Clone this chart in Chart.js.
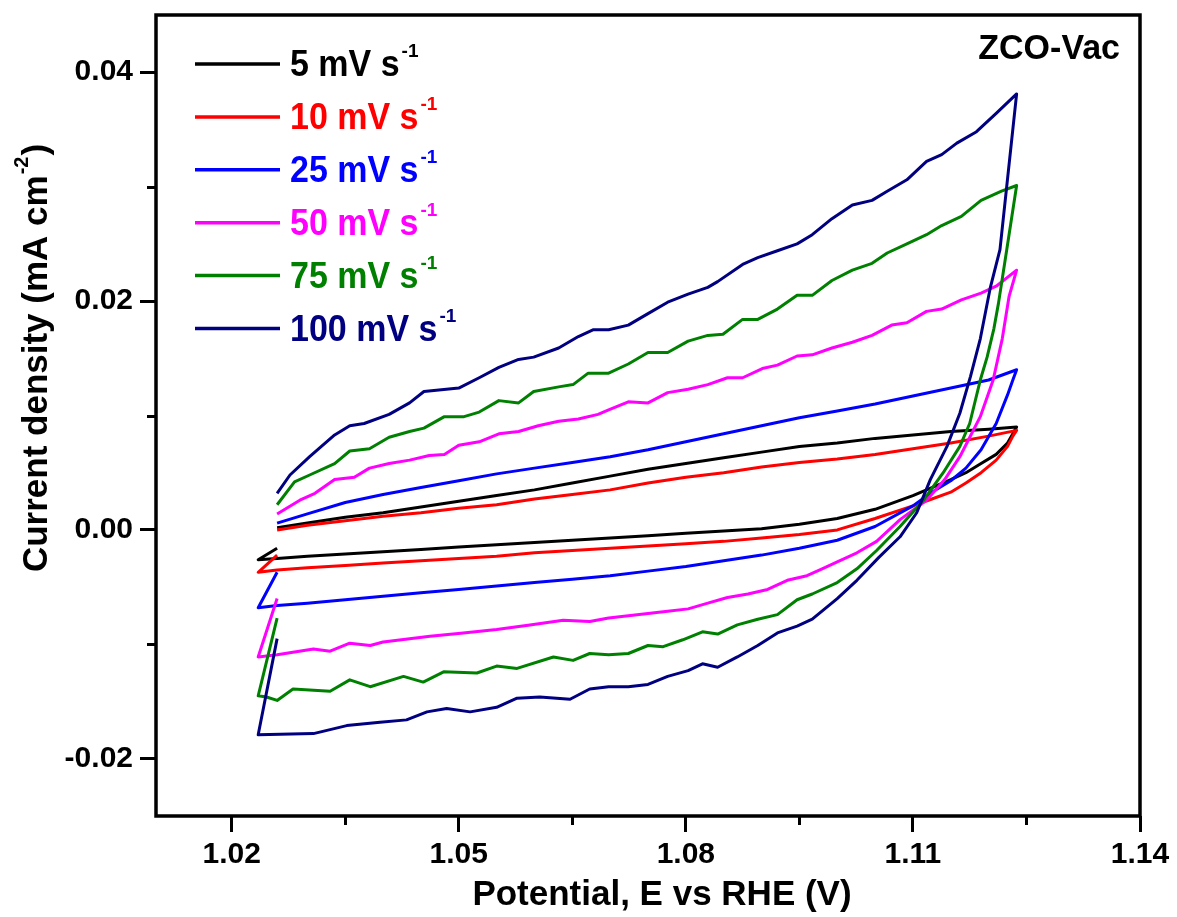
<!DOCTYPE html>
<html>
<head>
<meta charset="utf-8">
<script src="https://cdn.jsdelivr.net/npm/chart.js@4.4.1/dist/chart.umd.min.js"></script>
<style>
  html, body { margin: 0; padding: 0; background: #ffffff; }
  #wrap { width: 1177px; height: 917px; position: relative; }
  canvas { display: block; }
</style>
</head>
<body>
<div id="wrap"><canvas id="cv" width="1177" height="917"></canvas></div>
<script>
// ---------------- data ----------------
const scanRates = ['5', '10', '25', '50', '75', '100'];          // mV s-1
const sampleName = 'ZCO-Vac';
const xTitleText = 'Potential, E vs RHE (V)';
const yTitleMain = 'Current density (mA cm';
const yTitleSup = '-2';
const yTitleEnd = ')';

const xMajorTicks = [1.02, 1.05, 1.08, 1.11, 1.14];
const xMinorTicks = [1.035, 1.065, 1.095, 1.125];
const yMajorTicks = [-0.02, 0.00, 0.02, 0.04];
const yMinorTicks = [-0.01, 0.01, 0.03];

// last recorded point of each loop (low-potential end), V
const scanEndPotential = 1.026;
const scanEndCurrent = [-0.0016, -0.0022, -0.0037, -0.0060, -0.0077, -0.0095];

// shared potential grids (V) for the smooth 5 / 10 / 25 mV s-1 loops
const potentialAnodic = [1.026, 1.030, 1.035, 1.040, 1.045, 1.050, 1.055, 1.060, 1.065, 1.070,
  1.075, 1.080, 1.085, 1.090, 1.095, 1.100, 1.105, 1.110, 1.115, 1.120, 1.1237];
const potentialCathodic = [1.0235, 1.026, 1.030, 1.035, 1.040, 1.045, 1.050, 1.055, 1.060, 1.065,
  1.070, 1.075, 1.080, 1.085, 1.090, 1.095, 1.100, 1.105, 1.110, 1.1125, 1.115, 1.117, 1.119,
  1.121, 1.1225, 1.1232, 1.1237];

// current density (mA cm-2) on those grids
const anodic5   = [0.0002, 0.0006, 0.0011, 0.0015, 0.0020, 0.0025, 0.0030, 0.0035, 0.0041, 0.0047, 0.0053, 0.0058, 0.0063, 0.0068, 0.0073, 0.0076, 0.0080, 0.0083, 0.0086, 0.0088, 0.0090];
const anodic10  = [0.0000, 0.0004, 0.0008, 0.0012, 0.0015, 0.0019, 0.0022, 0.0027, 0.0031, 0.0035, 0.0041, 0.0046, 0.0050, 0.0055, 0.0059, 0.0062, 0.0066, 0.0071, 0.0076, 0.0082, 0.0087];
const anodic25  = [0.0006, 0.0014, 0.0024, 0.0031, 0.0037, 0.0043, 0.0049, 0.0054, 0.0059, 0.0064, 0.0070, 0.0077, 0.0084, 0.0091, 0.0098, 0.0104, 0.0110, 0.0117, 0.0124, 0.0131, 0.0140];
const cathodic5   = [-0.0026, -0.0025, -0.0023, -0.0021, -0.0019, -0.0017, -0.0015, -0.0013, -0.0011, -0.0009, -0.0007, -0.0005, -0.0003, -0.0001, 0.0001, 0.0005, 0.0010, 0.0018, 0.0030, 0.0037, 0.0044, 0.0050, 0.0058, 0.0066, 0.0076, 0.0084, 0.0090];
const cathodic10  = [-0.0037, -0.0035, -0.0033, -0.0031, -0.0029, -0.0027, -0.0025, -0.0023, -0.0020, -0.0018, -0.0016, -0.0014, -0.0012, -0.0010, -0.0007, -0.0004, 0.0000, 0.0010, 0.0021, 0.0027, 0.0033, 0.0041, 0.0050, 0.0061, 0.0073, 0.0082, 0.0087];
const cathodic25  = [-0.0068, -0.0066, -0.0064, -0.0061, -0.0058, -0.0055, -0.0052, -0.0049, -0.0046, -0.0043, -0.0040, -0.0036, -0.0032, -0.0027, -0.0022, -0.0016, -0.0009, 0.0003, 0.0021, 0.0033, 0.0043, 0.0054, 0.0070, 0.0093, 0.0118, 0.0131, 0.0140];

// 50 mV s-1 (own potential samples, wavy trace)
const potentialAnodic50 = [1.0260, 1.0290, 1.0310, 1.0336, 1.0362, 1.0382, 1.0408, 1.0435, 1.0461, 1.0481, 1.0500, 1.0527, 1.0553, 1.0579, 1.0605, 1.0632, 1.0658, 1.0684, 1.0698, 1.0724, 1.0750, 1.0776, 1.0803, 1.0829, 1.0855, 1.0875, 1.0901, 1.0921, 1.0947, 1.0967, 1.0993, 1.1020, 1.1046, 1.1072, 1.1092, 1.1118, 1.1138, 1.1164, 1.1190, 1.1210, 1.1237];
const anodic50 = [0.0014, 0.0026, 0.0032, 0.0044, 0.0046, 0.0054, 0.0058, 0.0061, 0.0065, 0.0066, 0.0074, 0.0077, 0.0084, 0.0086, 0.0091, 0.0095, 0.0097, 0.0101, 0.0105, 0.0112, 0.0111, 0.0120, 0.0123, 0.0127, 0.0133, 0.0133, 0.0141, 0.0144, 0.0152, 0.0153, 0.0159, 0.0164, 0.0170, 0.0179, 0.0181, 0.0191, 0.0193, 0.0201, 0.0207, 0.0213, 0.0227];
const potentialCathodic50 = [1.0235, 1.0260, 1.0308, 1.0330, 1.0356, 1.0383, 1.0400, 1.0462, 1.0506, 1.0550, 1.0594, 1.0638, 1.0673, 1.0698, 1.0724, 1.0750, 1.0776, 1.0803, 1.0829, 1.0855, 1.0882, 1.0908, 1.0934, 1.0960, 1.0980, 1.1000, 1.1026, 1.1052, 1.1083, 1.1118, 1.1142, 1.1162, 1.1189, 1.1206, 1.1218, 1.1227, 1.1237];
const cathodic50 = [-0.0111, -0.0109, -0.0104, -0.0106, -0.0099, -0.0101, -0.0098, -0.0093, -0.0090, -0.0087, -0.0083, -0.0079, -0.0080, -0.0077, -0.0075, -0.0073, -0.0071, -0.0069, -0.0064, -0.0059, -0.0056, -0.0052, -0.0044, -0.0040, -0.0034, -0.0028, -0.0020, -0.0010, 0.0009, 0.0026, 0.0044, 0.0064, 0.0099, 0.0131, 0.0167, 0.0204, 0.0227];

// 75 mV s-1
const potentialAnodic75 = [1.0260, 1.0283, 1.0303, 1.0336, 1.0356, 1.0382, 1.0408, 1.0435, 1.0454, 1.0481, 1.0507, 1.0527, 1.0553, 1.0579, 1.0599, 1.0632, 1.0651, 1.0671, 1.0698, 1.0724, 1.0750, 1.0776, 1.0803, 1.0829, 1.0849, 1.0875, 1.0895, 1.0921, 1.0947, 1.0967, 1.0993, 1.1020, 1.1046, 1.1066, 1.1092, 1.1118, 1.1138, 1.1164, 1.1190, 1.1217, 1.1237];
const anodic75 = [0.0022, 0.0042, 0.0048, 0.0058, 0.0069, 0.0071, 0.0081, 0.0086, 0.0089, 0.0099, 0.0099, 0.0103, 0.0113, 0.0111, 0.0121, 0.0125, 0.0127, 0.0137, 0.0137, 0.0145, 0.0155, 0.0155, 0.0165, 0.0170, 0.0171, 0.0184, 0.0184, 0.0193, 0.0205, 0.0205, 0.0218, 0.0227, 0.0233, 0.0242, 0.0250, 0.0258, 0.0266, 0.0274, 0.0288, 0.0296, 0.0301];
const potentialCathodic75 = [1.0235, 1.0246, 1.0260, 1.0281, 1.0330, 1.0356, 1.0383, 1.0427, 1.0453, 1.0480, 1.0524, 1.0550, 1.0577, 1.0625, 1.0651, 1.0673, 1.0698, 1.0724, 1.0750, 1.0770, 1.0796, 1.0822, 1.0842, 1.0868, 1.0895, 1.0921, 1.0947, 1.0967, 1.1000, 1.1026, 1.1052, 1.1083, 1.1114, 1.1140, 1.1162, 1.1175, 1.1189, 1.1198, 1.1207, 1.1213, 1.1224, 1.1237];
const cathodic75 = [-0.0145, -0.0146, -0.0149, -0.0139, -0.0141, -0.0131, -0.0137, -0.0128, -0.0133, -0.0124, -0.0125, -0.0119, -0.0121, -0.0111, -0.0114, -0.0108, -0.0109, -0.0108, -0.0101, -0.0102, -0.0096, -0.0089, -0.0091, -0.0083, -0.0078, -0.0074, -0.0061, -0.0056, -0.0046, -0.0034, -0.0018, 0.0003, 0.0026, 0.0050, 0.0073, 0.0093, 0.0131, 0.0151, 0.0176, 0.0198, 0.0245, 0.0301];

// 100 mV s-1
const potentialAnodic100 = [1.0260, 1.0277, 1.0303, 1.0336, 1.0356, 1.0375, 1.0408, 1.0435, 1.0454, 1.0500, 1.0527, 1.0553, 1.0579, 1.0599, 1.0632, 1.0658, 1.0678, 1.0698, 1.0724, 1.0750, 1.0776, 1.0803, 1.0829, 1.0842, 1.0875, 1.0895, 1.0921, 1.0947, 1.0967, 1.0993, 1.1020, 1.1046, 1.1066, 1.1092, 1.1118, 1.1138, 1.1158, 1.1184, 1.1210, 1.1237];
const anodic100 = [0.0032, 0.0048, 0.0064, 0.0083, 0.0091, 0.0093, 0.0101, 0.0111, 0.0121, 0.0124, 0.0133, 0.0142, 0.0149, 0.0151, 0.0159, 0.0169, 0.0175, 0.0175, 0.0179, 0.0189, 0.0199, 0.0206, 0.0212, 0.0217, 0.0232, 0.0238, 0.0244, 0.0250, 0.0258, 0.0272, 0.0284, 0.0288, 0.0296, 0.0306, 0.0322, 0.0328, 0.0338, 0.0348, 0.0364, 0.0381];
const potentialCathodic100 = [1.0235, 1.0308, 1.0352, 1.0396, 1.0431, 1.0458, 1.0484, 1.0515, 1.0550, 1.0577, 1.0607, 1.0647, 1.0673, 1.0698, 1.0724, 1.0750, 1.0776, 1.0803, 1.0822, 1.0842, 1.0868, 1.0895, 1.0921, 1.0947, 1.0967, 1.1000, 1.1026, 1.1055, 1.1083, 1.1105, 1.1123, 1.1145, 1.1162, 1.1176, 1.1189, 1.1202, 1.1215, 1.1237];
const cathodic100 = [-0.0179, -0.0178, -0.0171, -0.0168, -0.0166, -0.0159, -0.0156, -0.0159, -0.0155, -0.0147, -0.0146, -0.0148, -0.0139, -0.0137, -0.0137, -0.0135, -0.0128, -0.0123, -0.0117, -0.0120, -0.0111, -0.0101, -0.0090, -0.0084, -0.0078, -0.0060, -0.0044, -0.0024, -0.0006, 0.0015, 0.0044, 0.0073, 0.0102, 0.0134, 0.0167, 0.0211, 0.0245, 0.0381];

// ---------------- styles ----------------
const lineColors = ['#000000', '#ff0000', '#0000ff', '#ff00ff', '#008000', '#000080'];
const FONT = '"Liberation Sans", Arial, Helvetica, sans-serif';

// ---------------- build datasets ----------------
const loopTable = [
  [potentialAnodic, anodic5, potentialCathodic, cathodic5],
  [potentialAnodic, anodic10, potentialCathodic, cathodic10],
  [potentialAnodic, anodic25, potentialCathodic, cathodic25],
  [potentialAnodic50, anodic50, potentialCathodic50, cathodic50],
  [potentialAnodic75, anodic75, potentialCathodic75, cathodic75],
  [potentialAnodic100, anodic100, potentialCathodic100, cathodic100]
];

function buildLoop(i) {
  const [eUp, jUp, eDn, jDn] = loopTable[i];
  const pts = [{ x: scanEndPotential, y: scanEndCurrent[i] }];
  eDn.forEach((e, k) => pts.push({ x: e, y: jDn[k] }));
  for (let k = eUp.length - 1; k >= 0; k--) pts.push({ x: eUp[k], y: jUp[k] });
  return pts;
}

const datasets = scanRates.map((r, i) => ({
  label: r + ' mV s\u207B\u00B9',
  data: buildLoop(i),
  borderColor: lineColors[i],
  backgroundColor: lineColors[i],
  borderWidth: 3,
  pointRadius: 0,
  showLine: true,
  fill: false,
  tension: 0,
  borderJoinStyle: 'round',
  order: -i
}));

// ---------------- decorations plugin ----------------
const decor = {
  id: 'decor',
  afterDraw(chart) {
    const { ctx, chartArea: a, scales: { x, y } } = chart;
    ctx.save();
    // frame
    ctx.strokeStyle = '#000';
    ctx.lineWidth = 3.5;
    ctx.strokeRect(a.left, a.top, a.right - a.left, a.bottom - a.top);
    // minor ticks
    ctx.lineWidth = 3;
    ctx.beginPath();
    xMinorTicks.forEach(v => {
      const px = Math.round(x.getPixelForValue(v)) + 0.5;
      ctx.moveTo(px, a.bottom); ctx.lineTo(px, a.bottom + 9);
    });
    yMinorTicks.forEach(v => {
      const py = Math.round(y.getPixelForValue(v)) + 0.5;
      ctx.moveTo(a.left, py); ctx.lineTo(a.left - 9, py);
    });
    ctx.stroke();

    // legend
    const lx0 = a.left + 39, lx1 = a.left + 124, tx = a.left + 134;
    const rowY0 = a.top + 49, rowDy = 52.9;
    chart.data.datasets.forEach((ds, i) => {
      const ry = rowY0 + i * rowDy;
      ctx.strokeStyle = ds.borderColor;
      ctx.lineWidth = 3.5;
      ctx.beginPath(); ctx.moveTo(lx0, ry); ctx.lineTo(lx1, ry); ctx.stroke();
      ctx.fillStyle = ds.borderColor;
      ctx.textAlign = 'left';
      ctx.textBaseline = 'alphabetic';
      ctx.font = 'bold 34px ' + FONT;
      const main = scanRates[i] + ' mV s';
      ctx.save();
      ctx.translate(tx, ry + 12);
      ctx.scale(1, 1.08);
      ctx.fillText(main, 0, 0);
      ctx.restore();
      const w = ctx.measureText(main).width;
      ctx.font = 'bold 19px ' + FONT;
      ctx.fillText('-1', tx + w + 2, ry - 7);
    });

    // sample label
    ctx.fillStyle = '#000';
    ctx.font = 'bold 34px ' + FONT;
    ctx.textAlign = 'right';
    ctx.save();
    ctx.translate(a.right - 20, a.top + 44);
    ctx.scale(1, 1.05);
    ctx.fillText(sampleName, 0, 0);
    ctx.restore();

    // x axis title
    ctx.textAlign = 'center';
    ctx.font = 'bold 35px ' + FONT;
    ctx.fillText(xTitleText, 662, 905);

    // y axis title (rotated, with superscript)
    ctx.save();
    ctx.translate(47, 358);
    ctx.rotate(-Math.PI / 2);
    ctx.font = 'bold 35px ' + FONT;
    const wMain = ctx.measureText(yTitleMain).width;
    const wEnd = ctx.measureText(yTitleEnd).width;
    ctx.font = 'bold 20px ' + FONT;
    const wSup = ctx.measureText(yTitleSup).width;
    const total = wMain + wSup + 2 + wEnd;
    let cx = -total / 2;
    ctx.textAlign = 'left';
    ctx.font = 'bold 35px ' + FONT;
    ctx.fillText(yTitleMain, cx, 0);
    cx += wMain + 1;
    ctx.font = 'bold 20px ' + FONT;
    ctx.fillText(yTitleSup, cx, -19);
    cx += wSup + 1;
    ctx.font = 'bold 35px ' + FONT;
    ctx.fillText(yTitleEnd, cx, 0);
    ctx.restore();

    ctx.restore();
  }
};

// ---------------- chart ----------------
const tickFont = { family: FONT, size: 30, weight: 'bold' };
new Chart(document.getElementById('cv'), {
  type: 'scatter',
  data: { datasets },
  options: {
    responsive: false,
    animation: false,
    devicePixelRatio: 1,
    layout: { padding: { left: 0, top: 15, right: 37, bottom: 0 } },
    plugins: { legend: { display: false }, tooltip: { enabled: false }, title: { display: false } },
    scales: {
      x: {
        type: 'linear',
        min: 1.01, max: 1.14,
        afterBuildTicks: s => { s.ticks = xMajorTicks.map(v => ({ value: v })); },
        afterFit: s => { s.height = 101; s.paddingLeft = 0; s.paddingRight = 0; s.paddingTop = 0; s.paddingBottom = 0; },
        ticks: { autoSkip: false, maxRotation: 0, color: '#000', font: tickFont, padding: 5,
                 callback: v => Number(v).toFixed(2) },
        grid: { display: true, drawOnChartArea: false, drawTicks: true, tickLength: 16, tickWidth: 3, tickColor: '#000' },
        border: { display: false },
        title: { display: false }
      },
      y: {
        type: 'linear',
        min: -0.025, max: 0.045,
        afterBuildTicks: s => { s.ticks = yMajorTicks.map(v => ({ value: v })); },
        afterFit: s => { s.width = 156; s.paddingLeft = 0; s.paddingRight = 0; s.paddingTop = 0; s.paddingBottom = 0; },
        ticks: { autoSkip: false, color: '#000', font: tickFont, padding: 7,
                 callback: v => Number(v).toFixed(2) },
        grid: { display: true, drawOnChartArea: false, drawTicks: true, tickLength: 16, tickWidth: 3, tickColor: '#000' },
        border: { display: false },
        title: { display: false }
      }
    }
  },
  plugins: [decor]
});
</script>
</body>
</html>
